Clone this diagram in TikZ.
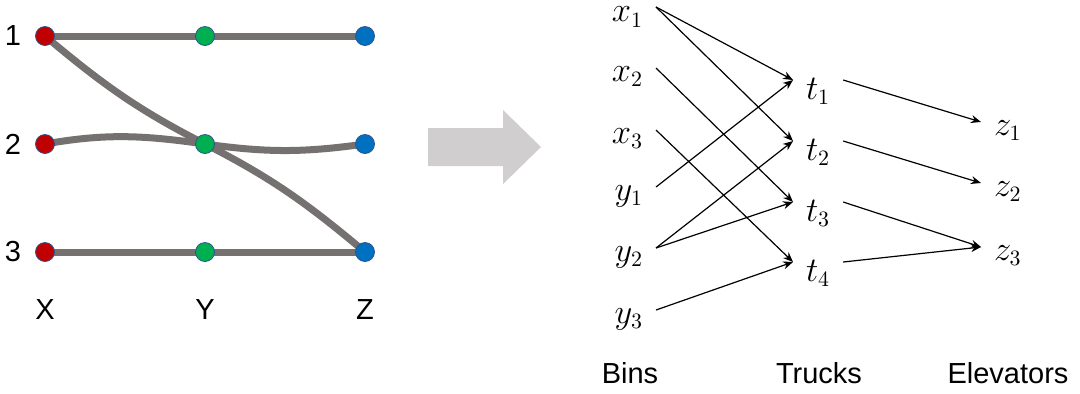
\documentclass[tikz,border=0pt]{standalone}
\usepackage{fontspec}
\setmainfont{Liberation Sans}
\usetikzlibrary{arrows.meta}
\usetikzlibrary{backgrounds}

\definecolor{xred}{HTML}{C00000}
\definecolor{ygreen}{HTML}{00B050}
\definecolor{zblue}{HTML}{0070C0}
\definecolor{dotline}{HTML}{2F528F}
\definecolor{flowgray}{HTML}{767171}
\definecolor{arrowgray}{HTML}{D0CECE}

\begin{document}
\begin{tikzpicture}[x=0.5pt, y=0.5pt,
	dot/.style={circle, draw=dotline, line width=0.4pt, minimum size=9.5pt, inner sep=0pt},
	flow/.style={draw=flowgray, line width=3.5pt},
	lbl/.style={font=\fontsize{14.5}{17}\selectfont},
	var/.style={inner xsep=6.5pt, inner ysep=0pt, outer xsep=0pt, outer ysep=-0.75pt, font=\fontsize{16}{19}\selectfont},
	arr/.style={-{Stealth[length=5pt, width=4pt]}, line width=0.6pt}]
	\useasboundingbox (0,0) rectangle (1080,-393);
	
	% left: routes X -> Y -> Z
	\foreach \r/\yy in {1/36, 2/144, 3/252} {
		\node[lbl] (n\r) at (13,-\yy) {\r};
		\node[dot, fill=xred] (X\r) at (45,-\yy) {};
		\node[dot, fill=ygreen] (Y\r) at (205,-\yy) {};
		\node[dot, fill=zblue] (Z\r) at (365,-\yy) {};
	}
	\node[lbl] (lX) at (45,-310) {X};
	\node[lbl] (lY) at (205,-310) {Y};
	\node[lbl] (lZ) at (365,-310) {Z};
	
	\begin{scope}[on background layer]
		\draw[flow] (X1.center) -- (Y1.center) -- (Z1.center);
		\draw[flow] (X3.center) -- (Y3.center) -- (Z3.center);
		\draw[flow] (X2.center) to[out=10, in=172] (Y2.center) to[out=-8, in=188] (Z2.center);
		\draw[flow] (X1.center) to[out=-40, in=153] (Y2.center) to[out=-27, in=140] (Z3.center);
	\end{scope}
	
	% block arrow
	\fill[arrowgray] (428,-128) -- (503,-128) -- (503,-110) -- (541,-147) -- (503,-184) -- (503,-166) -- (428,-166) -- cycle;
	
	% right: bins, trucks, elevators
	\node[var, anchor=north east, outer ysep=0pt] (x1) at (656,-7) {$x_1$};
	\node[var, anchor=north east] (x2) at (656,-68) {$x_2$};
	\node[var, anchor=north east] (x3) at (656,-130) {$x_3$};
	\node[var, anchor=north east] (y1) at (656,-187) {$y_1$};
	\node[var, anchor=north east] (y2) at (656,-248) {$y_2$};
	\node[var, anchor=north east] (y3) at (656,-310) {$y_3$};
	
	\node[var, anchor=north west] (t1) at (793,-80) {$t_1$};
	\node[var, anchor=north west] (t2) at (793,-141) {$t_2$};
	\node[var, anchor=north west] (t3) at (793,-202) {$t_3$};
	\node[var, anchor=north west] (t4) at (793,-262) {$t_4$};
	
	\node[var, anchor=north west] (z1) at (981,-122) {$z_1$};
	\node[var, anchor=north west] (z2) at (981,-183) {$z_2$};
	\node[var, anchor=north west] (z3) at (981,-247) {$z_3$};
	
	\foreach \a/\b in {x1/t1, x1/t2, x2/t3, x3/t4, y1/t1, y2/t2, y2/t3, y3/t4, t1/z1, t2/z2, t3/z3, t4/z3}
		\draw[arr] (\a.north east) -- (\b.north west);
	
	\node[lbl] (bins) at (630,-373) {Bins};
	\node[lbl] (trucks) at (819,-373) {Trucks};
	\node[lbl] (elev) at (1008,-373) {Elevators};
\end{tikzpicture}
\end{document}
